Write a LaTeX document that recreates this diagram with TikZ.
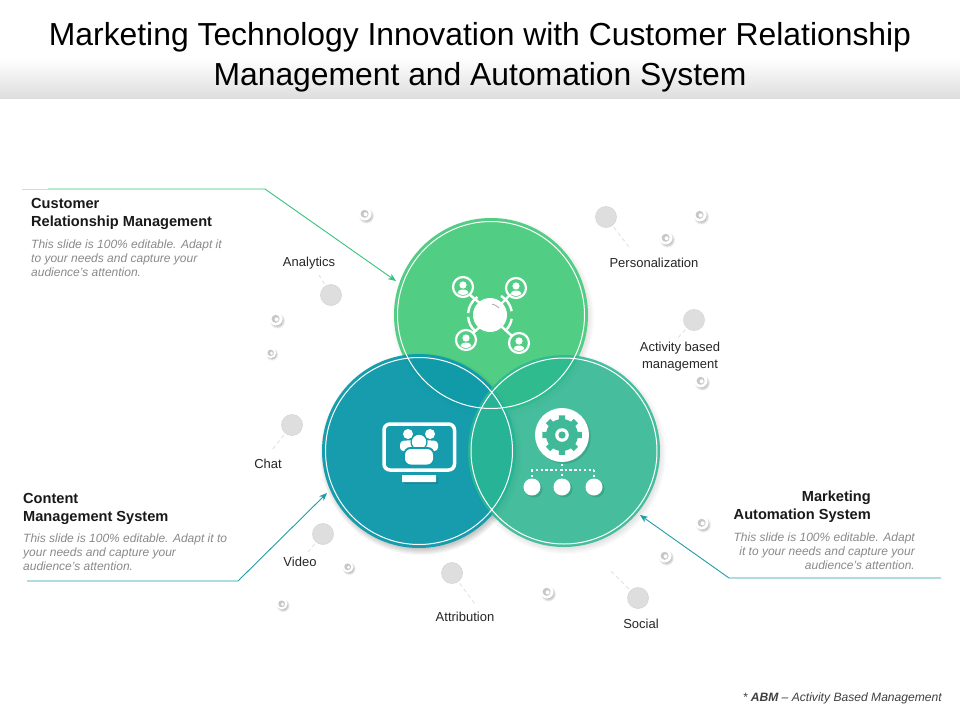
\documentclass[tikz,border=0pt]{standalone}
\usepackage{fontspec}
\setmainfont{Liberation Sans}
\usetikzlibrary{arrows.meta,calc}
\definecolor{cgreen}{HTML}{52CD84}
\definecolor{cteal}{HTML}{0F9BAB}
\definecolor{cmint}{HTML}{2BB892}
\definecolor{lgreen}{HTML}{38C27E}
\definecolor{lteal}{HTML}{1F9EA6}
\definecolor{gtext}{HTML}{8A8A8A}
\definecolor{cgear}{HTML}{3FB998}
\tikzset{
  x=1pt,y=-1pt,
  titletext/.style={font=\fontsize{31.85}{40}\selectfont,align=center,text=black,inner sep=0},
  headtext/.style={font=\fontsize{14.6}{18}\selectfont\bfseries,inner sep=0,text=black!90},
  bodytext/.style={font=\fontsize{12}{14}\selectfont\itshape,inner sep=0,text=gtext},
  labeltext/.style={font=\fontsize{13}{17}\selectfont,inner sep=0,align=center,text=black!85},
  bigcirc/.style={circle,inner sep=0,minimum size=#1},
  ringline/.style={draw=white,line width=1pt},
  leader/.style={draw=black!11,line width=.9pt,dash pattern=on 4pt off 3pt,shorten <=2pt},
  callout/.style={line width=.9pt,-{Stealth[length=8pt,width=6.5pt]}},
  graydot/.style={circle,inner sep=0,minimum size=21pt,fill=black!13,draw=black!16,line width=.6pt},
  iconline/.style={draw=white,line width=2.4pt,line cap=round},
  dotline/.style={white,line width=2.6pt,dash pattern=on 2.4pt off 2.4pt},
}
\newcommand{\softshadow}[3]{% x y r
  \foreach \k in {0,1,...,6}{\fill[black,opacity=.016] (#1+2,#2+3) circle ({#3-2+\k});}}
\newcommand{\smallring}[3]{% x y scale
  \begin{scope}[shift={(#1,#2)},scale=#3]
  \foreach \k in {0,1,2,3,4}{\fill[black,opacity=.06] (1.5,2) circle ({7.5-\k*.7});}
  \fill[white] (0,0) circle (6.5);
  \fill[black!22] (-.4,-.2) circle (4);
  \fill[white] (.6,.3) circle (2);
  \end{scope}
}
\newcommand{\satellite}[2]{%
  \draw[iconline,line width=2.2pt] (#1,#2) circle (10pt);
  \fill[white] (#1,#2-2) circle (3.6pt);
  \begin{scope}
    \clip (#1,#2) circle (8pt);
    \fill[white] (#1,#2+7) ellipse (6pt and 4.5pt);
  \end{scope}
}
\begin{document}
\begin{tikzpicture}
\useasboundingbox (0,0) rectangle (960,720);
\fill[white] (0,0) rectangle (960,720);
\shade[top color=white,bottom color=black!13] (0,58) rectangle (960,98);
\node[titletext] (title) at (480,57) {Marketing Technology Innovation with Customer Relationship\\Management and Automation System};

% soft shadows
\softshadow{491}{315}{97}
\softshadow{419}{451}{97}
\softshadow{564}{451}{96}

% Venn circles
\node[bigcirc=194pt,fill=cgreen] (cg) at (491,315) {};
\softshadow{419}{451}{97}
\node[bigcirc=194pt,fill=cteal,fill opacity=.96] (ct) at (419,451) {};
\node[bigcirc=192pt,fill=cmint,fill opacity=.85] (cm) at (564,451) {};
\node[bigcirc=187pt,ringline] (rg) at (491,315) {};
\node[bigcirc=187pt,ringline] (rt) at (419,451) {};
\node[bigcirc=186pt,ringline] (rm) at (564,451) {};

% network icon
\begin{scope}
  \draw[iconline] (470,295) -- (481,304);
  \draw[iconline] (510,295) -- (501,304);
  \draw[iconline] (473,333) -- (481,326);
  \draw[iconline] (512,336) -- (501,326);
  \fill[white] (490,315) circle (17pt);
  \draw[black!35,line width=.8pt] (492,304) to[bend left=15] (499,308);
  \draw[iconline,line cap=butt] (490,315) ++(-175:22) arc (-175:-125:22);
  \draw[iconline,line cap=butt] (490,315) ++(-60:22) arc (-60:-10:22);
  \draw[iconline,line cap=butt] (490,315) ++(10:22) arc (10:40:22);
  \draw[iconline,line cap=butt] (490,315) ++(130:22) arc (130:175:22);
  \satellite{463}{287}
  \satellite{516}{288}
  \satellite{466}{340}
  \satellite{519}{343}
\end{scope}

% monitor icon
\fill[black,opacity=.12] (404,477) rectangle (438,484);
\draw[draw=white,line width=3.5pt,rounded corners=6pt] (384,424) rectangle (454.5,470);
\fill[white,rounded corners=.5pt] (402,475) rectangle (436,482);
\fill[white] (408,434) circle (5pt);
\fill[white] (430,434) circle (5pt);
\fill[white,rounded corners=3.5pt] (400,451) -- (400,441) -- (414,440) -- (424,440) -- (438,441) -- (438,451) -- cycle;
\fill[cteal] (419,442) circle (8.6pt);
\fill[white] (419,442) circle (7.2pt);
\fill[cteal,rounded corners=7pt] (403.5,466) -- (403.5,447) -- (434.5,447) -- (434.5,466) -- cycle;
\fill[white,rounded corners=6pt] (405,464.5) -- (405,449) -- (433,449) -- (433,464.5) -- cycle;

% gear icon
\fill[black,opacity=.10] (564,437) circle (27pt);
\fill[white] (562,435) circle (27pt);
\fill[cgear]
  \foreach \a in {0,45,...,315}{
    ($(562,435)+(\a-12:14)$) -- ($(562,435)+(\a-9:20)$) -- ($(562,435)+(\a+9:20)$) -- ($(562,435)+(\a+12:14)$) -- cycle
  };
\fill[cgear] (562,435) circle (16pt);
\fill[white] (562,435) circle (6.8pt);
\fill[cgear] (562,435) circle (3.6pt);

% hierarchy
\draw[dotline] (531,470) -- (594,470);
\draw[dotline] (562,464) -- (562,478);
\draw[dotline] (532,470) -- (532,478);
\draw[dotline] (594,470) -- (594,478);
\foreach \x in {532,562,594}{
  \fill[black,opacity=.12] (\x+2,489) circle (8.5pt);
  \fill[white] (\x,487) circle (8.5pt);
}

% gray dots and leaders
\node[graydot] (d1) at (606,217) {};
\node[graydot] (d2) at (694,320) {};
\node[graydot] (d3) at (331,295) {};
\node[graydot] (d4) at (292,425) {};
\node[graydot] (d5) at (323,534) {};
\node[graydot] (d6) at (452,573) {};
\node[graydot] (d7) at (638,598) {};
\coordinate (e1) at (629,247);
\coordinate (e2) at (676,340);
\coordinate (e3) at (319,275);
\coordinate (e4) at (272,450);
\coordinate (e5) at (308,552);
\coordinate (e6) at (475,604);
\coordinate (e7) at (611,571);
\draw[leader] (d1) -- (e1);
\draw[leader] (d2) -- (e2);
\draw[leader] (d3) -- (e3);
\draw[leader] (d4) -- (e4);
\draw[leader] (d5) -- (e5);
\draw[leader] (d6) -- (e6);
\draw[leader] (d7) -- (e7);

% small rings
\smallring{365}{214}{1}
\smallring{700}{215}{1}
\smallring{666}{238}{1}
\smallring{276}{319}{1}
\smallring{271}{353}{.8}
\smallring{701}{381}{1}
\smallring{702}{523}{1}
\smallring{665}{556}{1}
\smallring{348}{567}{.85}
\smallring{547}{592}{1}
\smallring{282}{604}{.85}

% labels
\node[labeltext] (l1) at (309,263) {Analytics};
\node[labeltext] (l2) at (654,263) {Personalization};
\node[labeltext] (l3) at (680,357) {Activity based\\management};
\node[labeltext] (l4) at (268,464) {Chat};
\node[labeltext] (l5) at (300,562) {Video};
\node[labeltext] (l6) at (465,617) {Attribution};
\node[labeltext] (l7) at (641,624) {Social};

% callouts
\coordinate (a1) at (22,189);
\coordinate (a0) at (48,189);
\coordinate (a2) at (265,189);
\coordinate (a3) at (396,281);
\coordinate (b1) at (27,581);
\coordinate (b2) at (238,581);
\coordinate (b3) at (327,493);
\coordinate (c1) at (941,578);
\coordinate (c2) at (729,578);
\coordinate (c3) at (640,515);
\draw[line width=.9pt,lgreen!35] (a1) -- (a0);
\draw[callout,lgreen] (a0) -- (a2) -- (a3);
\draw[callout,lteal] (b1) -- (b2) -- (b3);
\draw[callout,lteal] (c1) -- (c2) -- (c3);

% text blocks
\node[headtext,anchor=north west,align=left] (h1) at (31,198) {Customer\\Relationship Management};
\node[bodytext,anchor=north west,align=left] (t1) at (31,240) {This slide is 100\% editable. Adapt it\\to your needs and capture your\\audience's attention.};
\node[headtext,anchor=north west,align=left] (h2) at (23,493) {Content\\Management System};
\node[bodytext,anchor=north west,align=left] (t2) at (23,534) {This slide is 100\% editable. Adapt it to\\your needs and capture your\\audience's attention.};
\node[headtext,anchor=north east,align=right] (h3) at (871,491) {Marketing\\Automation System};
\node[bodytext,anchor=north east,align=right] (t3) at (915,533) {This slide is 100\% editable. Adapt\\it to your needs and capture your\\audience's attention.};
\node[font=\fontsize{12.1}{14}\selectfont\itshape,inner sep=0,anchor=east,text=black!75] (foot) at (942,698) {* \textbf{ABM} -- Activity Based Management};
\end{tikzpicture}
\end{document}
